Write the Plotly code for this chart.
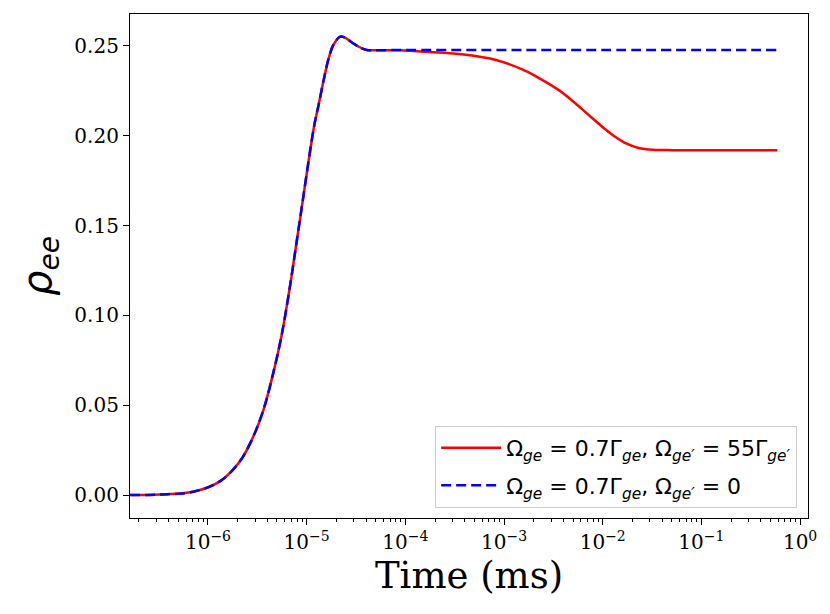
import plotly.graph_objects as go

# time in ms, population rho_ee
t_rise = [1.62e-7, 3.24e-7, 7.08e-7, 1.32e-6, 2.09e-6, 2.77e-6, 3.63e-6, 4.59e-6,
          5.58e-6, 6.78e-6, 7.92e-6, 9.25e-6, 1.08e-5, 1.21e-5, 1.32e-5, 1.48e-5,
          1.66e-5, 1.86e-5, 2.19e-5, 2.45e-5, 2.95e-5, 3.63e-5, 4.07e-5]
rho_rise = [0.0000, 0.0003, 0.0018, 0.0076, 0.0185, 0.0305, 0.0470, 0.0680,
            0.0890, 0.1163, 0.1410, 0.1660, 0.1910, 0.2075, 0.2170, 0.2305,
            0.2425, 0.2505, 0.2552, 0.2546, 0.2515, 0.2487, 0.2478]

t_red_tail = [8.7e-5, 1.78e-4, 3.89e-4, 8.3e-4, 1.55e-3, 2.31e-3, 3.68e-3,
              5.02e-3, 6.87e-3, 9.37e-3, 1.28e-2, 1.75e-2, 2.31e-2, 3.25e-2,
              5.18e-2, 0.589]
rho_red_tail = [0.2476, 0.2466, 0.2452, 0.2422, 0.2368, 0.2318, 0.2250,
                0.2191, 0.2126, 0.2061, 0.2002, 0.1956, 0.1932, 0.1922,
                0.1920, 0.1920]

t_blue_tail = [8.7e-5, 1.0e-3, 1.0e-2, 0.589]
rho_blue_tail = [0.2478, 0.2478, 0.2478, 0.2478]

label_red = ('Ω<sub><i>ge</i></sub> = 0.7Γ<sub><i>ge</i></sub>, '
             'Ω<sub><i>ge′</i></sub> = 55Γ<sub><i>ge′</i></sub>')
label_blue = 'Ω<sub><i>ge</i></sub> = 0.7Γ<sub><i>ge</i></sub>, Ω<sub><i>ge′</i></sub> = 0'

major = [-6, -5, -4, -3, -2, -1, 0]
minor_ticks = [m * 10.0 ** k for k in range(-7, 1) for m in range(2, 10)]

fig = go.Figure()
fig.add_trace(go.Scatter(
    x=t_rise + t_red_tail, y=rho_rise + rho_red_tail,
    mode='lines', name=label_red, legendgroup='a',
    line=dict(color='red', width=2.5, shape='spline', smoothing=1.0),
))
fig.add_trace(go.Scatter(
    x=t_rise + t_blue_tail, y=rho_rise + rho_blue_tail,
    mode='lines', name=label_blue, legendgroup='b',
    line=dict(color='blue', width=2.5, dash='10px,5px', shape='spline', smoothing=1.0),
))

# page body has an 8px margin, so shift the plot area up/left to match
fig.update_layout(
    width=830, height=614,
    margin=dict(l=122, r=30, t=6, b=104),
    paper_bgcolor='white', plot_bgcolor='white',
    font=dict(family='DejaVu Serif', size=20, color='black'),
    showlegend=True,
    legend=dict(
        x=0.984, y=0.02, xanchor='right', yanchor='bottom',
        bgcolor='white', bordercolor='#cccccc', borderwidth=1,
        font=dict(family='DejaVu Sans', size=22),
        traceorder='grouped', tracegroupgap=6, itemwidth=60,
    ),
)

fig.update_xaxes(
    type='log', range=[-6.79, 0.08],
    tickvals=[10.0 ** k for k in major],
    ticktext=['10<sup>−%d</sup>' % -k if k else '10<sup>0</sup>' for k in major],
    ticks='outside', ticklen=6, tickwidth=1.2, tickcolor='black',
    minor=dict(tickvals=minor_ticks, ticks='outside', ticklen=3, tickwidth=1, tickcolor='black'),
    showgrid=False, zeroline=False,
    showline=True, linecolor='black', linewidth=1.2, mirror=True,
    title=dict(text='Time (ms)', font=dict(family='DejaVu Serif', size=37), standoff=8),
)
fig.update_yaxes(
    range=[-0.0128, 0.2678],
    tickvals=[0.0, 0.05, 0.10, 0.15, 0.20, 0.25], tickformat='.2f',
    ticks='outside', ticklen=6, tickwidth=1.2, tickcolor='black',
    showgrid=False, zeroline=False,
    showline=True, linecolor='black', linewidth=1.2, mirror=True,
    title=dict(text='<i>ρ</i><sub><i>ee</i></sub>', font=dict(family='DejaVu Sans', size=40), standoff=10),
)

fig.write_html('out.html')
